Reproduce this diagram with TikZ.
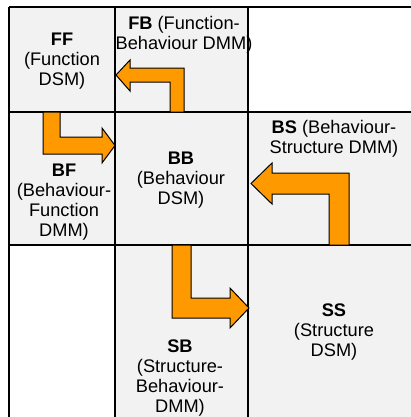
\documentclass[tikz,border=0pt]{standalone}
\usepackage{fontspec}
\setmainfont{Liberation Sans}
\definecolor{cellgray}{HTML}{F2F2F2}
\definecolor{arroworange}{HTML}{FF9900}

\begin{document}
\begin{tikzpicture}[x=1bp, y=-1bp,
    gridline/.style={line width=1.2bp},
    blockarrow/.style={fill=arroworange, draw=black, line width=1bp, line join=miter},
    celltext/.style={align=center, inner sep=0pt, font=\fontsize{18.3}{20}\selectfont}]
    \useasboundingbox (0,0) rectangle (411,417);
    \clip (0,0) rectangle (411,417);

    % shaded cells (top right and bottom left stay white)
    \fill [cellgray] (9,7) rectangle (248,245)
        (248,112) rectangle (420,425)
        (115,245) rectangle (248,425);
    % matrix grid
    \draw [gridline] (9,7) -- (420,7)
        (9,112) -- (420,112)
        (9,245) -- (420,245)
        (9,7) -- (9,425)
        (115,7) -- (115,425)
        (248,7) -- (248,425);

    % cell labels
    \node [celltext] (ff) at (62,61)   {\textbf{FF}\\(Function\\DSM)};
    \node [celltext] (fb) at (184,35)  {\textbf{FB} (Function-\\Behaviour DMM)};
    \node [celltext] (bf) at (64,202)  {\textbf{BF}\\(Behaviour-\\Function\\DMM)};
    \node [celltext] (bb) at (181,180) {\textbf{BB}\\(Behaviour\\DSM)};
    \node [celltext] (bs) at (334,139) {\textbf{BS} (Behaviour-\\Structure DMM)};
    \node [celltext] (sb) at (180,378) {\textbf{SB}\\(Structure-\\Behaviour-\\DMM)};
    \node [celltext] (ss) at (334,332) {\textbf{SS}\\(Structure\\DSM)};

    % bent block arrows
    \draw [blockarrow] (170,112) -- (170,82) -- (130,82) -- (130,91) -- (116,75)
        -- (130,60) -- (130,68) -- (184,68) -- (184,112) -- cycle; % FB to FF
    \draw [blockarrow] (43,112) -- (43,154) -- (102,154) -- (102,163) -- (115,145.5)
        -- (102,128) -- (102,137) -- (60,137) -- (60,112) -- cycle; % BF to BB
    \draw [blockarrow] (329,245) -- (329,194) -- (272,194) -- (272,204) -- (251,183.5)
        -- (272,163) -- (272,173) -- (349,173) -- (349,245) -- cycle; % BS to BB
    \draw [blockarrow] (172,245) -- (172,318) -- (230,318) -- (230,328) -- (249,308)
        -- (230,288) -- (230,298) -- (191,298) -- (191,245) -- cycle; % SB to SS
\end{tikzpicture}
\end{document}
